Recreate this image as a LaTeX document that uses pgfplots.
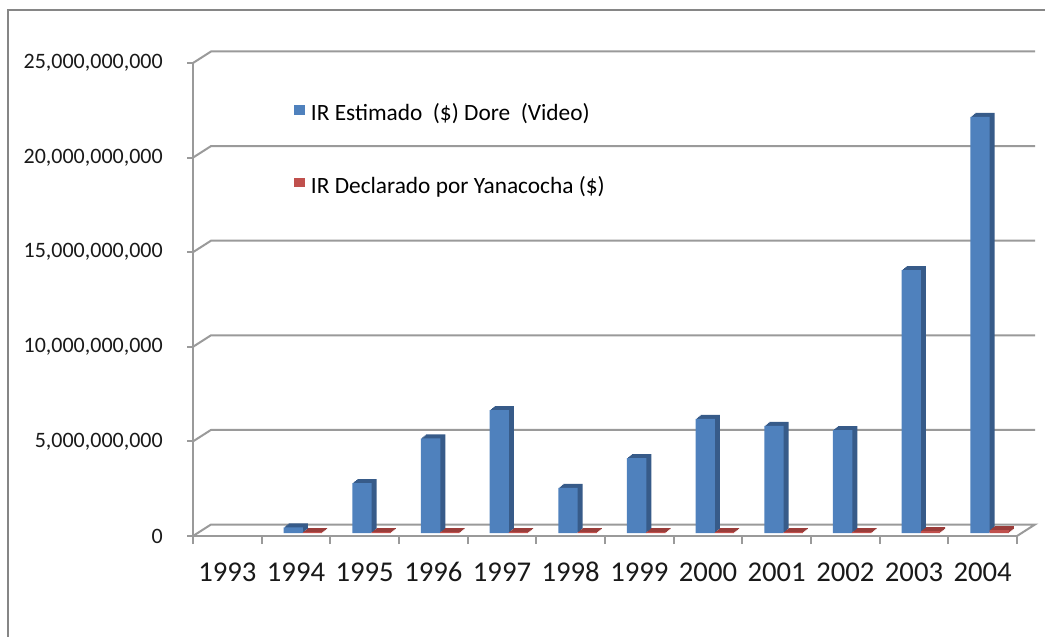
\documentclass[border=0pt]{standalone}
\usepackage{pgfplots}
\pgfplotsset{compat=1.18}
\usepackage{pgfplotstable}
\usepackage{fontspec}
\setmainfont{Carlito}
\definecolor{cblue}{HTML}{4F81BD}
\definecolor{cblued}{HTML}{375B89}
\definecolor{cred}{HTML}{C0504D}
\definecolor{credd}{HTML}{9A3D3A}
\definecolor{gridc}{HTML}{9A9A9A}
\definecolor{framec}{HTML}{868686}

% values in billions of dollars
\pgfplotstableread{
x    est    decl
1.5  0.30   0.05
2.5  2.63   0.05
3.5  5.00   0.05
4.5  6.50   0.05
5.5  2.38   0.05
6.5  3.96   0.05
7.5  6.03   0.05
8.5  5.66   0.05
9.5  5.44   0.05
10.5 13.90  0.10
11.5 22.00  0.15
}\data

\begin{document}
\begin{tikzpicture}
\useasboundingbox (0pt,0pt) rectangle (783.75pt,477pt);
\clip (0pt,0pt) rectangle (783.75pt,477pt);
\draw[framec, line width=1.5pt] (6pt,469.5pt) rectangle (820pt,-30pt);
\begin{axis}[
  scale only axis, width=618pt, height=354.75pt,
  at={(144.75pt,75pt)}, anchor=south west,
  xmin=0, xmax=12, ymin=0, ymax=25,
  axis x line*=bottom, axis y line*=left,
  axis line style={gridc, line width=1.5pt},
  tick align=outside,
  xtick={0.5,1.5,...,11.5},
  xticklabels={1993,1994,1995,1996,1997,1998,1999,2000,2001,2002,2003,2004},
  minor xtick={0,1,...,12},
  major x tick style={draw=none},
  minor x tick style={gridc, line width=1.5pt},
  minor tick length=6pt,
  ytick={0,5,...,25},
  yticklabels={0,{5,000,000,000},{10,000,000,000},{15,000,000,000},{20,000,000,000},{25,000,000,000}},
  y tick style={gridc, line width=1.5pt},
  major tick length=4.5pt,
  yticklabel style={font=\fontsize{16.5}{19}\selectfont, text=black!90, anchor=east, inner sep=0pt, xshift=-18pt},
  xticklabel style={font=\fontsize{21.5}{25}\selectfont, text=black!90, anchor=base, inner sep=0pt, yshift=-29.5pt},
  legend style={draw=none, fill=none, at={(0.1226,0.8174)}, anchor=west,
    font=\fontsize{17.5}{20}\selectfont, row sep=40pt, inner sep=0pt,
    nodes={inner sep=0pt, anchor=west}, column sep=4.5pt},
  legend cell align=left,
  clip=false,
]
% back wall gridlines (3-D look)
\pgfplotsinvokeforeach{5,10,15,20,25}{
  \draw[gridc, line width=1.5pt] (axis cs:0,#1) -- ++(13.5pt,8.625pt) -- ([shift={(13.5pt,8.625pt)}]axis cs:12,#1);
}
% floor
\draw[gridc, line width=1.5pt] (axis cs:0,0) -- ++(13.5pt,8.625pt) -- ([shift={(13.5pt,8.625pt)}]axis cs:12,0) -- (axis cs:12,0);

% blue series: extrusion then front face
\addplot[ybar, bar width=14.5pt, bar shift=1.69pt, yshift=5.25pt, fill=cblued, draw=none, forget plot] table[x=x,y=est]{\data};
\addplot[ybar, bar width=14.5pt, bar shift=0.75pt, yshift=4.5pt, fill=cblued, draw=none, forget plot] table[x=x,y=est]{\data};
\addplot[ybar, bar width=14.5pt, bar shift=-0.19pt, yshift=3.75pt, fill=cblued, draw=none, forget plot] table[x=x,y=est]{\data};
\addplot[ybar, bar width=14.5pt, bar shift=-1.12pt, yshift=3pt, fill=cblued, draw=none, forget plot] table[x=x,y=est]{\data};
\addplot[ybar, bar width=14.5pt, bar shift=-2.06pt, yshift=2.25pt, fill=cblue, draw=none,
  legend image code/.code={\fill[cblue] (0pt,-3.6pt) rectangle (8pt,3.6pt);}] table[x=x,y=est]{\data};
\addlegendentry{IR Estimado\ \ (\$) Dore\ \ (Video)}

% red series
\addplot[ybar, bar width=14.5pt, bar shift=16.15pt, yshift=5.25pt, fill=credd, draw=none, forget plot] table[x=x,y=decl]{\data};
\addplot[ybar, bar width=14.5pt, bar shift=15.21pt, yshift=4.5pt, fill=credd, draw=none, forget plot] table[x=x,y=decl]{\data};
\addplot[ybar, bar width=14.5pt, bar shift=14.28pt, yshift=3.75pt, fill=credd, draw=none, forget plot] table[x=x,y=decl]{\data};
\addplot[ybar, bar width=14.5pt, bar shift=13.34pt, yshift=3pt, fill=credd, draw=none, forget plot] table[x=x,y=decl]{\data};
\addplot[ybar, bar width=14.5pt, bar shift=12.4pt, yshift=2.25pt, fill=cred, draw=none,
  legend image code/.code={\fill[cred] (0pt,-3.6pt) rectangle (8pt,3.6pt);}] table[x=x,y=decl]{\data};
\addlegendentry{IR Declarado por Yanacocha (\$)}
\end{axis}
\end{tikzpicture}
\end{document}
